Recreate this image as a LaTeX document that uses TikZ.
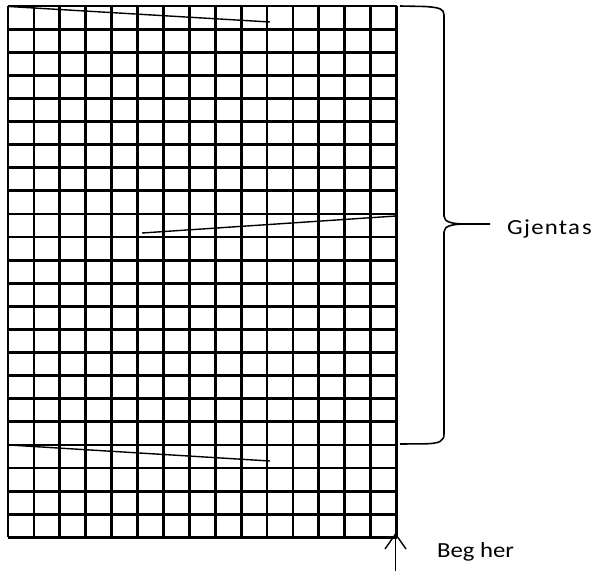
\documentclass[tikz,border=0pt]{standalone}
\usepackage{fontspec}
\usetikzlibrary{calc}
\newfontfamily\lblfont[FakeStretch=1.15]{Carlito}
\newfontfamily\lblfontwide[FakeStretch=1.15,LetterSpace=6]{Carlito}
\tikzset{
  gridline/.style={line width=2.8pt},
  sweep/.style={line width=1.4pt},
  bracepath/.style={line width=1.6pt, line join=round},
  pointer/.style={line width=1.4pt, line join=miter},
  caption/.style={anchor=base west, inner sep=0pt, font=\lblfont\fontsize{21.5pt}{25pt}\selectfont},
}
\begin{document}
\begin{tikzpicture}[x=1pt,y=-1pt]
  \path[use as bounding box] (0,0) rectangle (595,571);

  % 15 x 23 grid of cells
  \def\gx{8}\def\gy{6}\def\cw{25.9}\def\ch{23.1}
  \foreach \i in {0,...,15}
    \draw[gridline] ({\gx+\i*\cw},\gy) -- ({\gx+\i*\cw},{\gy+23*\ch});
  \foreach \j in {0,...,23}
    \draw[gridline] (\gx,{\gy+\j*\ch}) -- ({\gx+15*\cw},{\gy+\j*\ch});

  % sweep lines across the rows
  \coordinate (s1a) at (9,6.5);   \coordinate (s1b) at (270,22);
  \coordinate (s2a) at (142,233); \coordinate (s2b) at (396,216);
  \coordinate (s3a) at (9,445);   \coordinate (s3b) at (270,461);
  \draw[sweep] (s1a) -- (s1b);
  \draw[sweep] (s2a) -- (s2b);
  \draw[sweep] (s3a) -- (s3b);

  % right brace
  \coordinate (btop) at (400,6);
  \coordinate (btip) at (490,224);
  \coordinate (bbot) at (400,444);
  \draw[bracepath] (btop) -- (425,6.5) .. controls (440,7.5) and (444,9) .. (444,15)
    -- (444,216) .. controls (444,222) and (452,224) .. (466,224) -- (btip);
  \draw[bracepath] (466,224) .. controls (452,224) and (444,226) .. (444,232)
    -- (444,434) .. controls (444,441) and (440,443.5) .. (425,443.8) -- (bbot);

  \node[caption, font=\lblfontwide\fontsize{21.5pt}{25pt}\selectfont] (gj) at (507,234.3) {Gjenta\kern2pt s};

  % start marker: shaft with an open barbed head
  \coordinate (afoot) at (395.5,571);
  \coordinate (atip) at (395.5,534);
  \draw[pointer] (afoot) -- (atip);
  \draw[pointer] ($(atip)+(-10.5,15)$) -- (atip) -- ($(atip)+(10.5,15)$);
  \node[caption] (bh) at (437,557.7) {Beg her};
\end{tikzpicture}
\end{document}
